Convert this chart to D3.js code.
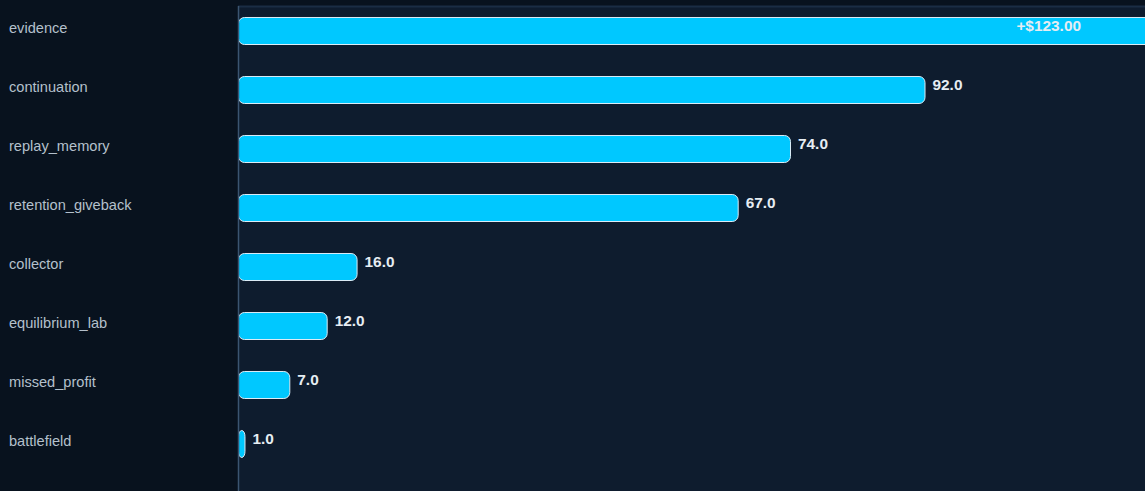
<!DOCTYPE html>
<html>
<head>
<meta charset="utf-8">
<script src="https://cdn.jsdelivr.net/npm/d3@7"></script>
<style>
  html, body { margin: 0; padding: 0; background: #08121e; overflow: hidden; }
  svg { display: block; font-family: "Liberation Sans", Arial, sans-serif; }
</style>
</head>
<body>
<div id="root"></div>
<script>
const categories = ['evidence', 'continuation', 'replay_memory', 'retention_giveback',
  'collector', 'equilibrium_lab', 'missed_profit', 'battlefield'];
const values = [123, 92, 74, 67, 16, 12, 7, 1];
const valueLabels = ['+$123.00', '92.0', '74.0', '67.0', '16.0', '12.0', '7.0', '1.0'];

const width = 1145;
const height = 491;

// plot area starts where the axis line sits
const plotLeft = 238;
const plotTop = 6;

const svg = d3.select('#root')
  .append('svg')
  .attr('width', width)
  .attr('height', height);

svg.append('rect')
  .attr('width', width)
  .attr('height', height)
  .attr('fill', '#08121e');

svg.append('rect')
  .attr('x', plotLeft)
  .attr('y', plotTop)
  .attr('width', width - plotLeft)
  .attr('height', height - plotTop)
  .attr('fill', '#0e1c2e');

svg.append('line')
  .attr('x1', plotLeft).attr('x2', width)
  .attr('y1', plotTop + 0.5).attr('y2', plotTop + 0.5)
  .attr('stroke', '#1a2d44')
  .attr('stroke-width', 2);

const x = d3.scaleLinear()
  .domain([0, 92])
  .range([plotLeft, 925.5]);

const y = d3.scaleBand()
  .domain(categories)
  .range([1.5, 1.5 + 59 * categories.length])
  .paddingInner(0.525)
  .paddingOuter(0.2625);

const g = svg.append('g');

g.append('defs').append('clipPath')
  .attr('id', 'plot-clip')
  .append('rect')
  .attr('x', plotLeft)
  .attr('y', 0)
  .attr('width', width - plotLeft)
  .attr('height', height);

// bars
g.append('g')
  .attr('clip-path', 'url(#plot-clip)')
  .selectAll('.bar')
  .data(categories)
  .enter()
  .append('rect')
  .attr('class', 'bar')
  .attr('x', x(0) + 0.5)
  .attr('y', d => y(d) + 0.5)
  .attr('width', (d, i) => Math.max(x(values[i]) - x(0) - 1, 6))
  .attr('height', y.bandwidth() - 1)
  .attr('rx', 6)
  .attr('fill', '#00c8ff')
  .attr('stroke', '#dcecf6')
  .attr('stroke-width', 1);

// axis line
svg.append('line')
  .attr('x1', plotLeft + 0.5).attr('x2', plotLeft + 0.5)
  .attr('y1', plotTop).attr('y2', height)
  .attr('stroke', '#3b5571')
  .attr('stroke-width', 1.5);

// category labels
g.selectAll('.cat-label')
  .data(categories)
  .enter()
  .append('text')
  .attr('class', 'cat-label')
  .attr('x', 9)
  .attr('y', d => y(d) + y.bandwidth() / 2 - 3)
  .attr('dy', '0.35em')
  .attr('fill', '#b4c0cc')
  .style('font-size', '14.6px')
  .text(d => d);

// value labels
g.selectAll('.val-label')
  .data(categories)
  .enter()
  .append('text')
  .attr('class', 'val-label')
  .attr('x', (d, i) => {
    const end = x(values[i]) + 7;
    return end > width - 60 ? 1081 : end;
  })
  .attr('text-anchor', (d, i) => x(values[i]) + 7 > width - 60 ? 'end' : 'start')
  .attr('y', d => y(d) + y.bandwidth() / 2 - 5.5)
  .attr('dy', '0.35em')
  .attr('fill', '#e6edf3')
  .style('font-size', '15.4px')
  .style('font-weight', 'bold')
  .text((d, i) => valueLabels[i]);
</script>
</body>
</html>
